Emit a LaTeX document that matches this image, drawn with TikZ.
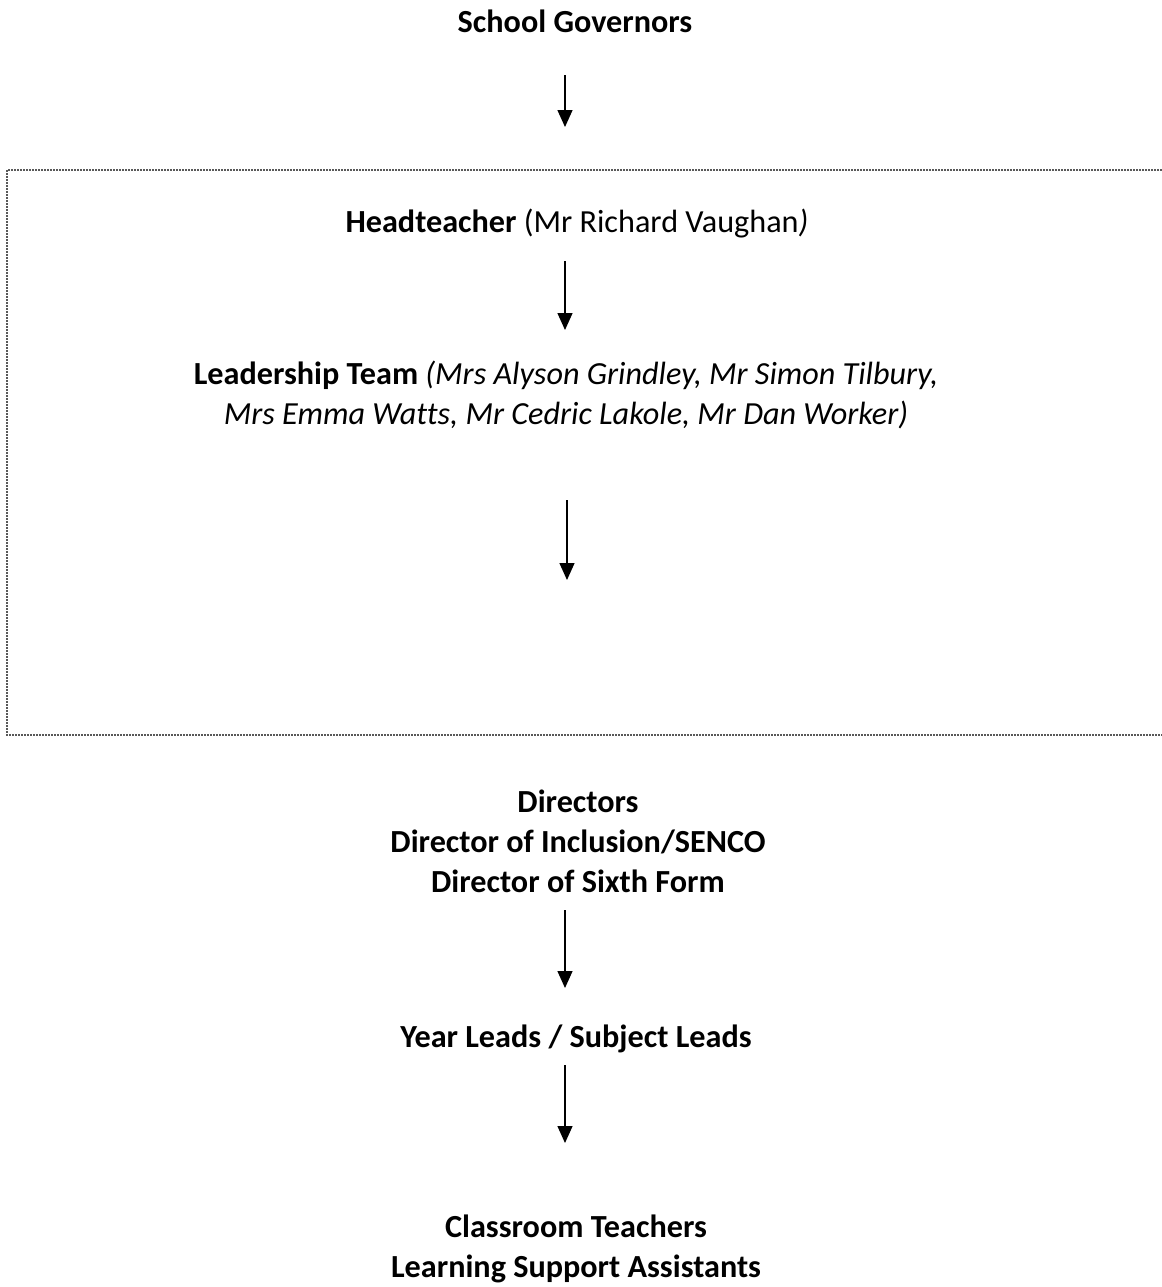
\documentclass[tikz,border=0pt]{standalone}
\usepackage{fontspec}
\setmainfont{Carlito}[Ligatures=NoCommon]
\usetikzlibrary{arrows.meta,positioning}
\tikzset{
    tier/.style={
           anchor=base,
           align=center,
           inner sep=0pt,
           font=\fontsize{16.1}{20}\selectfont
           },
    link/.style={
           -{Triangle[width=7.5pt,length=8.5pt]},
           line width=0.7pt
           },
    frame/.style={
           draw=black!65,
           line width=0.7pt,
           dash pattern=on 1pt off 0.5pt
           }
}
\begin{document}
\begin{tikzpicture}[x=0.5pt,y=-0.5pt]
   \useasboundingbox (0,0) rectangle (1162,1287);
   % dotted frame round the senior staff
   \draw[frame] (1162,170) -- (7,170) -- (7,735) -- (1162,735);
   % base of a node with several lines is its last line
   \node[tier] (gov) at (575,32) {\textbf{School Governors}};
   \node[tier] (head) at (577,232) {\textbf{Headteacher} (Mr Richard Vaughan\textit{)}};
   \node[tier] (lead) at (566,424) {\textbf{Leadership Team} \textit{(Mrs Alyson Grindley, Mr Simon Tilbury,}\\
                                    \textit{Mrs Emma Watts, Mr Cedric Lakole, Mr Dan Worker)}};
   \node[tier] (dir) at (578,892) {\textbf{Directors}\\ \textbf{Director of Inclusion/SENCO}\\ \textbf{Director of Sixth Form}};
   \node[tier] (year) at (576,1047) {\textbf{Year Leads / Subject Leads}};
   \node[tier] (staff) at (576,1277) {\textbf{Classroom Teachers}\\ \textbf{Learning Support Assistants}};
   % arrow ends
   \coordinate (a1) at (565,75);   \coordinate (b1) at (565,127);
   \coordinate (a2) at (565,261);  \coordinate (b2) at (565,330);
   \coordinate (a3) at (567,500);  \coordinate (b3) at (567,580);
   \coordinate (a4) at (565,910);  \coordinate (b4) at (565,988);
   \coordinate (a5) at (565,1065); \coordinate (b5) at (565,1143);
   \foreach \i in {1,...,5}
      \draw[link] (a\i) -- (b\i);
\end{tikzpicture}
\end{document}
